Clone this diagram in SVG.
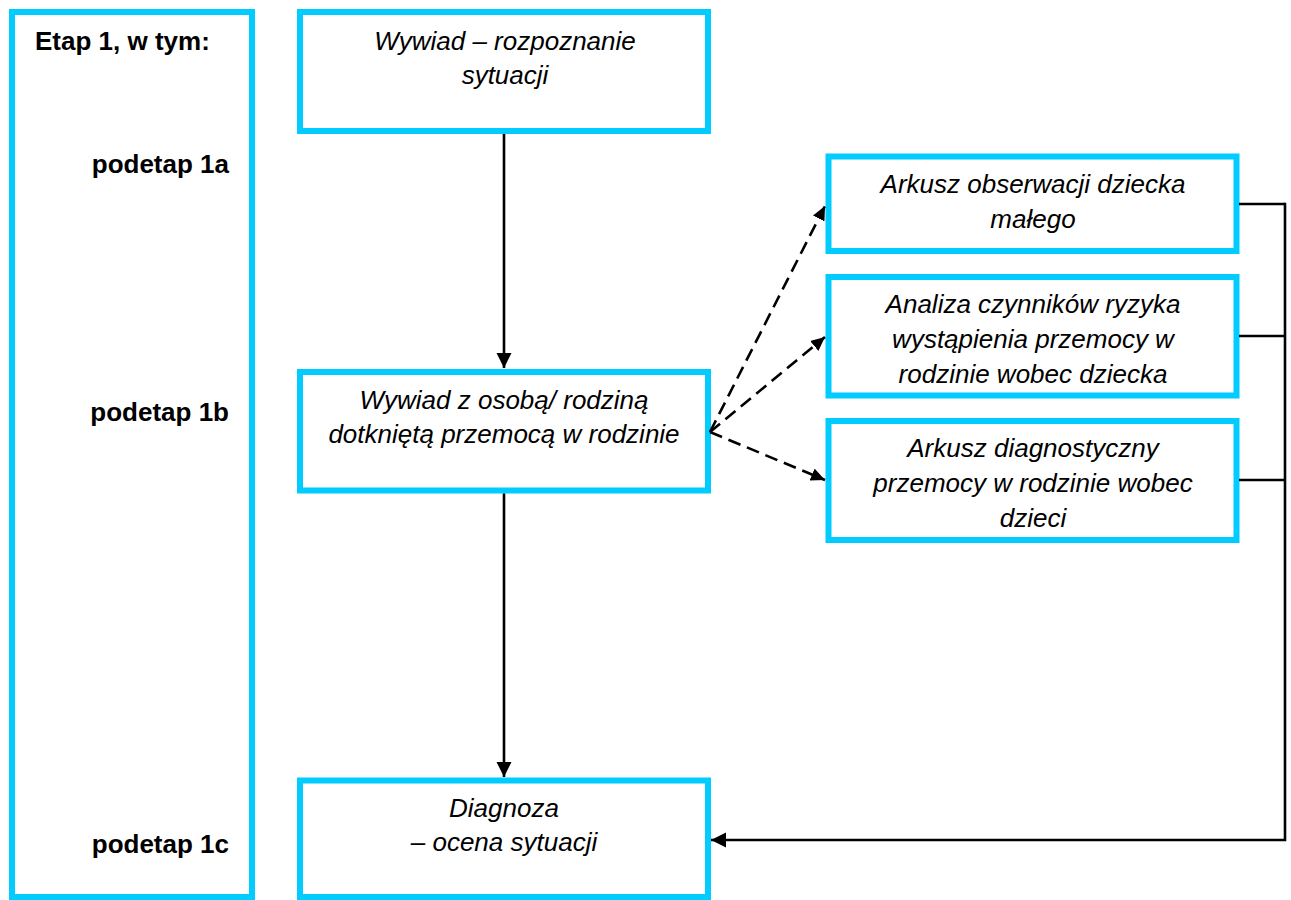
<svg xmlns="http://www.w3.org/2000/svg" width="1291" height="900" viewBox="0 0 1291 900">
<style>
.box{fill:#fff;stroke:#00CCFF;stroke-width:6}
.t{font-family:"Liberation Sans",Arial,sans-serif;font-size:26px;font-style:italic;fill:#000;text-anchor:middle}
.lbl{font-family:"Liberation Sans",Arial,sans-serif;font-size:26px;font-weight:bold;fill:#000}
.c{fill:none;stroke:#000;stroke-width:2.6}
.d{fill:none;stroke:#000;stroke-width:2.6;stroke-dasharray:13 7}
</style>
<defs>
<marker id="ah" markerUnits="userSpaceOnUse" markerWidth="16" markerHeight="16" refX="15" refY="7.5" orient="auto">
<path d="M0,0 L15,7.5 L0,15 z" fill="#000"/>
</marker>
<marker id="ahd" markerUnits="userSpaceOnUse" markerWidth="16" markerHeight="14" refX="14" refY="6.5" orient="auto">
<path d="M0,0 L14,6.5 L0,13 z" fill="#000"/>
</marker>
</defs>
<g id="etap1">
<rect class="box" x="12" y="12" width="240" height="885"/>
<text class="lbl" x="35" y="50">Etap 1, w tym:</text>
<text class="lbl" x="229" y="173" text-anchor="end">podetap 1a</text>
<text class="lbl" x="229" y="421" text-anchor="end">podetap 1b</text>
<text class="lbl" x="229" y="853" text-anchor="end">podetap 1c</text>
</g>
<g id="wywiad">
<rect class="box" x="300" y="12" width="408" height="119"/>
<text class="t" x="505" y="50">Wywiad – rozpoznanie</text>
<text class="t" x="505" y="84">sytuacji</text>
</g>
<g id="wywiad-osoba">
<rect class="box" x="300" y="372" width="408" height="118.5"/>
<text class="t" x="504" y="409">Wywiad z osobą/ rodziną</text>
<text class="t" x="504" y="443">dotkniętą przemocą w rodzinie</text>
</g>
<g id="diagnoza">
<rect class="box" x="300" y="780.5" width="408" height="116.5"/>
<text class="t" x="504" y="817">Diagnoza</text>
<text class="t" x="504" y="851">– ocena sytuacji</text>
</g>
<g id="arkusz-obserwacji">
<rect class="box" x="828.5" y="156.5" width="408" height="94.5"/>
<text class="t" x="1033" y="193">Arkusz obserwacji dziecka</text>
<text class="t" x="1033" y="228">małego</text>
</g>
<g id="analiza">
<rect class="box" x="828.5" y="277" width="408" height="118.5"/>
<text class="t" x="1033" y="313">Analiza czynników ryzyka</text>
<text class="t" x="1033" y="348">wystąpienia przemocy w</text>
<text class="t" x="1033" y="383">rodzinie wobec dziecka</text>
</g>
<g id="arkusz-diagnostyczny">
<rect class="box" x="828.5" y="421" width="408" height="119"/>
<text class="t" x="1033" y="457">Arkusz diagnostyczny</text>
<text class="t" x="1033" y="492">przemocy w rodzinie wobec</text>
<text class="t" x="1033" y="527">dzieci</text>
</g>
<g id="connectors">
<path class="c" d="M504,134 L504,368" marker-end="url(#ah)"/>
<path class="c" d="M504,493.5 L504,777" marker-end="url(#ah)"/>
<path class="d" d="M710,432 L825,206" marker-end="url(#ahd)"/>
<path class="d" d="M710,432 L825,337" marker-end="url(#ahd)"/>
<path class="d" d="M710,432 L825,480" marker-end="url(#ahd)"/>
<path class="c" d="M1239,204 L1285,204 M1239,336 L1285,336 M1239,480 L1285,480"/>
<path class="c" d="M1285,202.7 L1285,840 L711,840" marker-end="url(#ah)"/>
</g>
</svg>
